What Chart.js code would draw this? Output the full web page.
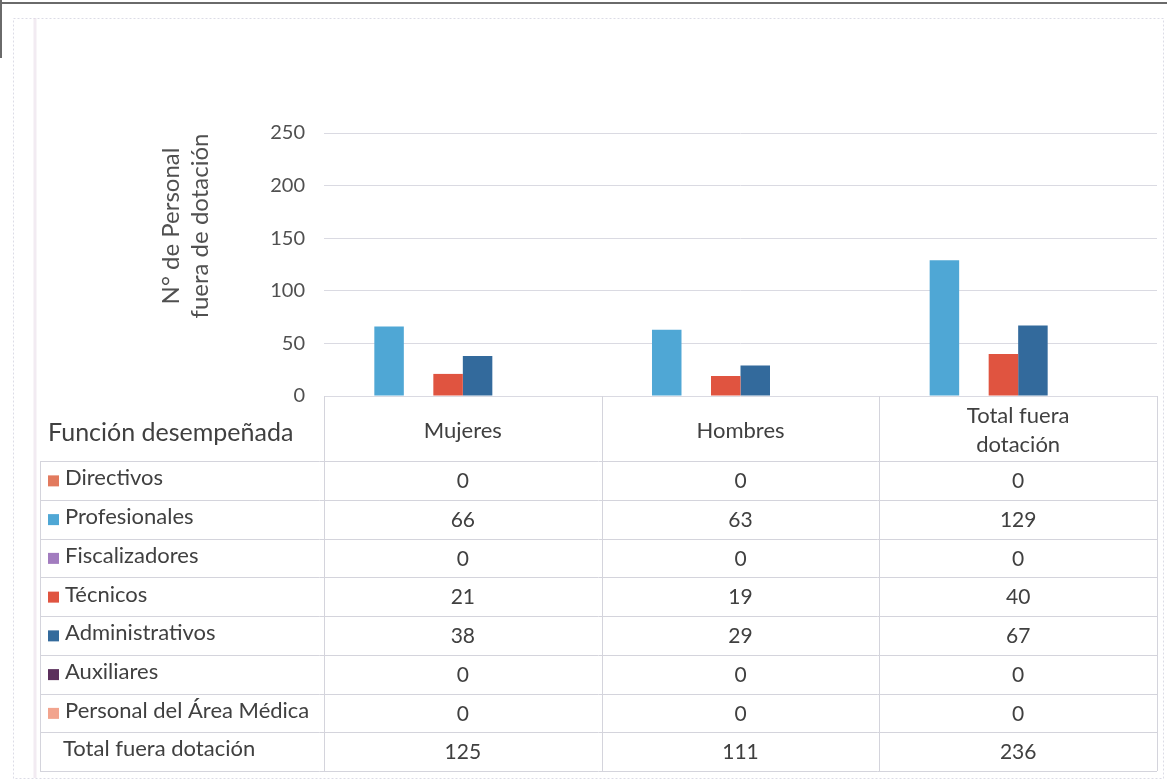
<!DOCTYPE html>
<html>
<head>
<meta charset="utf-8">
<script src="https://cdn.jsdelivr.net/npm/chart.js@4/dist/chart.umd.min.js"></script>
<style>
  html, body { margin: 0; padding: 0; background: #ffffff; }
  #wrap { position: relative; width: 1167px; height: 782px; }
</style>
</head>
<body>
<div id="wrap"><canvas id="c" width="1167" height="782"></canvas></div>
<script>
// ---- data ----
const categories = ['Mujeres', 'Hombres', 'Total fuera dotación'];
const headerLabels = [['Mujeres'], ['Hombres'], ['Total fuera', 'dotación']];
const seriesNames = ['Directivos', 'Profesionales', 'Fiscalizadores', 'Técnicos',
  'Administrativos', 'Auxiliares', 'Personal del Área Médica', 'Total fuera dotación'];
const directivos      = [0, 0, 0];
const profesionales   = [66, 63, 129];
const fiscalizadores  = [0, 0, 0];
const tecnicos        = [21, 19, 40];
const administrativos = [38, 29, 67];
const auxiliares      = [0, 0, 0];
const areaMedica      = [0, 0, 0];
const totalFuera      = [125, 111, 236];
const yTicks          = [0, 50, 100, 150, 200, 250];
const yTitleLines     = ['N° de Personal', 'fuera de dotación'];
const tableCorner     = 'Función desempeñada';

// ---- styles ----
const seriesValues = [directivos, profesionales, fiscalizadores, tecnicos,
  administrativos, auxiliares, areaMedica, totalFuera];
const seriesColors = ['#E27A5E', '#4FA7D5', '#A27CBF', '#E05440',
  '#336A9C', '#5B2F5C', '#F2A48E', 'rgba(0,0,0,0)'];
const FONT = 'Lato, "Open Sans", sans-serif';
const TEXT = '#404040';
const LINE = '#d4d4dc';

const datasets = seriesNames.map((n, i) => ({
  label: n,
  data: seriesValues[i],
  backgroundColor: seriesColors[i],
  borderWidth: 0,
  barPercentage: 1.0,
  categoryPercentage: 0.85
}));

const decorPlugin = {
  id: 'decor',
  beforeDraw(chart) {
    const ctx = chart.ctx;
    ctx.save();
    // scan edges
    ctx.fillStyle = '#6a6a6a';
    ctx.fillRect(0, 2, 1167, 2);
    ctx.fillRect(0, 0, 2, 58);
    // faint chart frame
    ctx.strokeStyle = '#dcdce6';
    ctx.lineWidth = 1;
    ctx.setLineDash([2, 2]);
    ctx.strokeRect(13.5, 18.5, 1150, 760);
    ctx.setLineDash([]);
    ctx.strokeStyle = 'rgba(230,215,230,0.5)';
    ctx.lineWidth = 3;
    ctx.beginPath(); ctx.moveTo(35, 18); ctx.lineTo(35, 778); ctx.stroke();
    ctx.restore();
  },
  afterDraw(chart) {
    const ctx = chart.ctx;
    const x = chart.scales.x;
    const area = chart.chartArea;
    const n = categories.length;
    const colW = (x.right - x.left) / n;
    const tableLeft = 40;
    const headerTop = area.bottom;
    const rowTop = 461;
    const rowH = 38.75;
    const nRows = seriesNames.length;
    const tableBottom = rowTop + rowH * nRows;
    ctx.save();
    ctx.strokeStyle = LINE;
    ctx.lineWidth = 1;
    // vertical lines
    for (let i = 0; i <= n; i++) {
      const px = Math.round(x.left + i * colW) + 0.5;
      ctx.beginPath(); ctx.moveTo(px, headerTop); ctx.lineTo(px, tableBottom); ctx.stroke();
    }
    ctx.beginPath(); ctx.moveTo(tableLeft + 0.5, rowTop); ctx.lineTo(tableLeft + 0.5, tableBottom); ctx.stroke();
    // horizontal lines
    for (let r = 0; r <= nRows; r++) {
      const py = Math.round(rowTop + r * rowH) + 0.5;
      ctx.beginPath(); ctx.moveTo(tableLeft, py); ctx.lineTo(x.right, py); ctx.stroke();
    }
    // header
    ctx.fillStyle = TEXT;
    ctx.textBaseline = 'middle';
    ctx.font = '25px ' + FONT;
    ctx.textAlign = 'left';
    ctx.fillText(tableCorner, 48, (headerTop + rowTop) / 2 + 4);
    ctx.font = '22px ' + FONT;
    ctx.textAlign = 'center';
    for (let i = 0; i < n; i++) {
      const cx = x.getPixelForValue(i);
      const lines = headerLabels[i];
      const lh = 29;
      const mid = (headerTop + rowTop) / 2 + 2;
      lines.forEach((t, k) => {
        ctx.fillText(t, cx, mid + (k - (lines.length - 1) / 2) * lh);
      });
    }
    // rows
    for (let r = 0; r < nRows; r++) {
      const cy = rowTop + r * rowH + rowH / 2;
      const ds = chart.data.datasets[r];
      ctx.textAlign = 'left';
      ctx.font = '22px ' + FONT;
      if (seriesColors[r] !== 'rgba(0,0,0,0)') {
        ctx.fillStyle = seriesColors[r];
        ctx.fillRect(48, cy - 5, 11, 11);
        ctx.fillStyle = TEXT;
        ctx.fillText(ds.label, 65, cy - 2);
      } else {
        ctx.fillStyle = TEXT;
        ctx.fillText(ds.label, 63, cy - 3);
      }
      ctx.textAlign = 'center';
      ctx.font = '21px ' + FONT;
      for (let i = 0; i < n; i++) {
        ctx.fillText(String(ds.data[i]), x.getPixelForValue(i), cy + 1);
      }
    }
    // y axis title
    ctx.font = '24px ' + FONT;
    ctx.fillStyle = '#505050';
    ctx.textAlign = 'center';
    const tx = [171, 200];
    yTitleLines.forEach((t, k) => {
      ctx.save();
      ctx.translate(tx[k], 226);
      ctx.rotate(-Math.PI / 2);
      ctx.fillText(t, 0, 0);
      ctx.restore();
    });
    ctx.restore();
  }
};

new Chart(document.getElementById('c'), {
  type: 'bar',
  data: { labels: categories, datasets },
  options: {
    responsive: false,
    animation: false,
    devicePixelRatio: 1,
    layout: { padding: { left: 0, right: 10, top: 133, bottom: 386 } },
    plugins: { legend: { display: false }, tooltip: { enabled: false }, title: { display: false } },
    scales: {
      x: { display: false },
      y: {
        min: yTicks[0],
        max: yTicks[yTicks.length - 1],
        afterBuildTicks(scale) { scale.ticks = yTicks.map(v => ({ value: v })); },
        afterFit(scale) { scale.width = 324; },
        grid: { color: '#dadae2', lineWidth: 1, drawTicks: false },
        border: { display: false },
        ticks: { padding: 19, color: '#505050', font: { family: FONT, size: 20 } }
      }
    }
  },
  plugins: [decorPlugin]
});
</script>
</body>
</html>
